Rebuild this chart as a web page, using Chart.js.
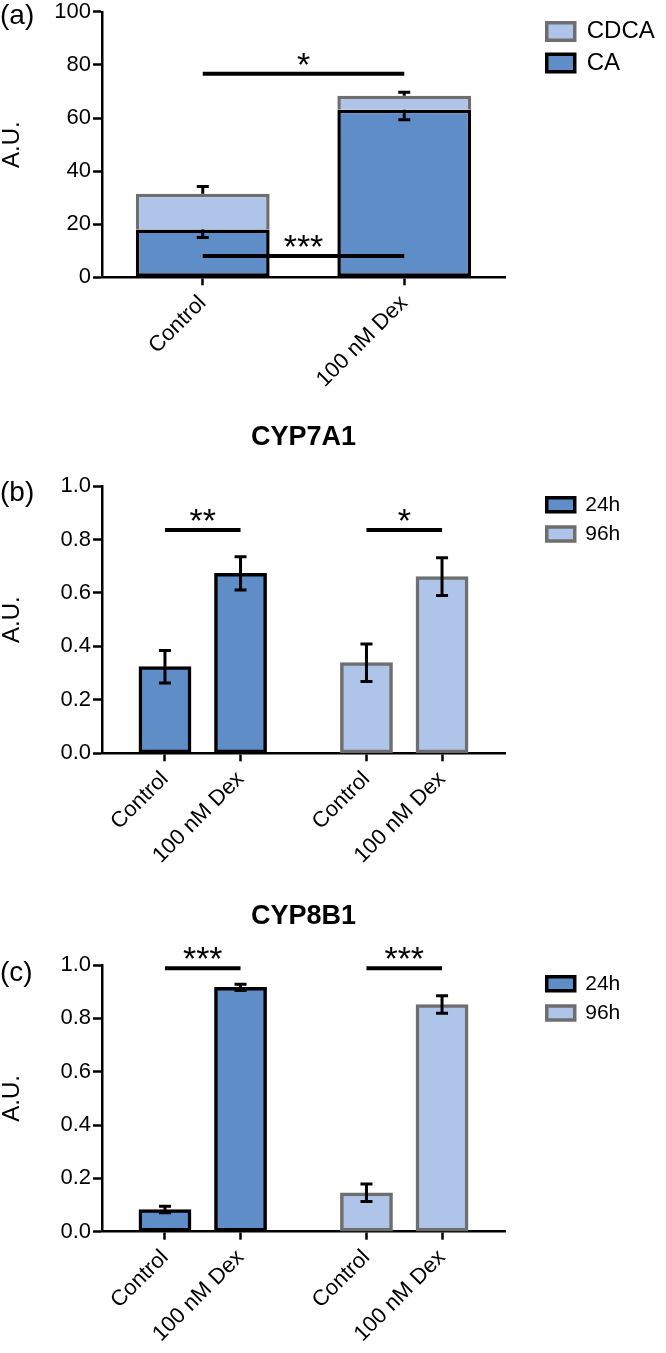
<!DOCTYPE html>
<html>
<head>
<meta charset="utf-8">
<title>Bile acids, CYP7A1, CYP8B1</title>
<script src="https://cdn.jsdelivr.net/npm/chart.js@4.4.1/dist/chart.umd.min.js"></script>
<style>
  body { margin: 0; width: 666px; height: 1353px; position: relative; background: #fff; overflow: hidden;
         font-family: 'Liberation Sans', Arial, Helvetica, sans-serif; }
  canvas { position: absolute; left: 0; }
  .tag { position: absolute; left: 0; font-size: 28px; line-height: 28px; color: #000; }
</style>
</head>
<body>
<canvas id="panelA" width="666" height="410" style="top:0"></canvas>
<canvas id="panelB" width="666" height="470" style="top:410px"></canvas>
<canvas id="panelC" width="666" height="473" style="top:880px"></canvas>
<div class="tag" style="top:1px">(a)</div>
<div class="tag" style="top:478px">(b)</div>
<div class="tag" style="top:958px">(c)</div>
<script>
/* ~~~~~~~~~~ DATA ~~~~~~~~~~ */

// (a) bile acids, stacked
const bileGroups = ['Control', '100 nM Dex'];
const caMean = [18.0, 63.1];
const caErr = [3.0, 3.7];
const cdcaMean = [13.5, 5.3];
const cdcaErr = [2.7, 1.3];
const bileTicks = [0, 20, 40, 60, 80, 100];
const bileSig = [
  { label: '*', level: 76.7 },
  { label: '***', level: 8.0 },
];

// (b), (c) expression, grouped by time point
const timepoints = ['24h', '96h'];
const treatments = ['Control', '100 nM Dex'];
const cyp7a1Control = [0.324, 0.339];
const cyp7a1ControlErr = [0.061, 0.070];
const cyp7a1Dex = [0.673, 0.661];
const cyp7a1DexErr = [0.062, 0.071];
const cyp7a1Sig = ['**', '*'];
const cyp7a1SigLevel = [0.835, 0.835];

const cyp8b1Control = [0.083, 0.146];
const cyp8b1ControlErr = [0.012, 0.033];
const cyp8b1Dex = [0.916, 0.852];
const cyp8b1DexErr = [0.012, 0.033];
const cyp8b1Sig = ['***', '***'];
const cyp8b1SigLevel = [0.988, 0.988];

const foldTicks = [0, 0.2, 0.4, 0.6, 0.8, 1.0];

/* ~~~~~~~~~~ STYLE ~~~~~~~~~~ */

const DARK = '#5F8DC7';
const LIGHT = '#AFC4E9';
const GREY = '#6E6E6E';
const FONT = "'Liberation Sans', Arial, Helvetica, sans-serif";
const GROUP_PCT = 0.75;
const PLOT_RIGHT = 505;   // where the x axis ends
const BOX_LEFT = 546.75;  // legend swatch left edge
const BOX_W = 28;

Chart.defaults.font.family = FONT;
Chart.defaults.color = '#000';
Chart.defaults.animation = false;

/* ~~~~~~~~~~ PLUGINS ~~~~~~~~~~ */

const errorBars = {
  id: 'errorBars',
  afterDatasetsDraw(chart) {
    const ctx = chart.ctx;
    const y = chart.scales.y;
    ctx.save();
    ctx.strokeStyle = '#000';
    ctx.lineWidth = 3;
    chart.data.datasets.forEach((ds, di) => {
      if (!ds.errors) return;
      chart.getDatasetMeta(di).data.forEach((bar, i) => {
        const d = y.getPixelForValue(0) - y.getPixelForValue(ds.errors[i]);
        const ends = [];
        if (ds.errorDir !== 'down') ends.push(bar.y - d);
        if (ds.errorDir !== 'up') ends.push(bar.y + d);
        ctx.beginPath();
        ends.forEach((e) => {
          ctx.moveTo(bar.x, bar.y);
          ctx.lineTo(bar.x, e);
          ctx.moveTo(bar.x - 6, e);
          ctx.lineTo(bar.x + 6, e);
        });
        ctx.stroke();
      });
    });
    ctx.restore();
  },
};

const sigMarks = {
  id: 'sigMarks',
  afterDatasetsDraw(chart, args, opts) {
    const ctx = chart.ctx;
    const y = chart.scales.y;
    ctx.save();
    (opts.items || []).forEach((s) => {
      const a = chart.getDatasetMeta(s.from[0]).data[s.from[1]];
      const b = chart.getDatasetMeta(s.to[0]).data[s.to[1]];
      const py = y.getPixelForValue(s.level);
      ctx.strokeStyle = '#000';
      ctx.lineWidth = 4;
      ctx.beginPath();
      ctx.moveTo(a.x, py);
      ctx.lineTo(b.x, py);
      ctx.stroke();
      ctx.fillStyle = '#000';
      ctx.font = '34px ' + FONT;
      ctx.textAlign = 'center';
      ctx.textBaseline = 'alphabetic';
      ctx.fillText(s.label, (a.x + b.x) / 2, py + 2);
    });
    ctx.restore();
  },
};

/* ~~~~~~~~~~ LAYOUT HELPERS ~~~~~~~~~~ */

// same sum the legend plugin does, so the plot keeps its right edge
function legendWidth(texts, fontSize, pad) {
  const m = document.createElement('canvas').getContext('2d');
  m.font = fontSize + 'px ' + FONT;
  const tw = Math.max(...texts.map((t) => m.measureText(t).width));
  return pad + BOX_W + fontSize / 2 + tw + 10;
}

function rightSide(texts, fontSize, pad) {
  const gap = BOX_LEFT - pad - PLOT_RIGHT;
  const padRight = Math.max(0, 666 - PLOT_RIGHT - gap - legendWidth(texts, fontSize, pad));
  return { gap, padRight };
}

function yAxis(tickValues, fmt, stacked) {
  return {
    stacked: stacked,
    min: tickValues[0],
    max: tickValues[tickValues.length - 1],
    afterBuildTicks: (ax) => { ax.ticks = tickValues.map((v) => ({ value: v })); },
    afterFit: (s) => { s.width = 102; },
    border: { display: true, color: '#000', width: 2.5 },
    grid: { drawOnChartArea: false, drawTicks: true, tickLength: 9, tickColor: '#000', tickWidth: 2.5 },
    ticks: { font: { size: 22, lineHeight: 0.9 }, color: '#000', padding: 2, callback: fmt },
    title: { display: true, text: 'A.U.', font: { size: 24, lineHeight: 1 }, padding: 0, color: '#000' },
  };
}

const X_TICKS = { font: { size: 22 }, color: '#000', padding: 5, minRotation: 45, maxRotation: 45, autoSkip: false };

function xAxis(height, more) {
  return Object.assign({
    afterFit: (s) => { s.height = height; },
    border: { display: true, color: '#000', width: 2.5 },
    grid: { offset: false, drawOnChartArea: false, drawTicks: true, tickLength: 8, tickColor: '#000', tickWidth: 2.5 },
    ticks: X_TICKS,
  }, more);
}

// hidden box that pushes the legend away from the plot
function spacer(width) {
  return {
    type: 'linear', position: 'right', display: false,
    afterFit: (s) => { s.width = width; },
  };
}

/* ~~~~~~~~~~ (a) BILE ACIDS ~~~~~~~~~~ */

const sideA = rightSide(['CDCA', 'CA'], 24, 7.5);

new Chart(document.getElementById('panelA'), {
  type: 'bar',
  data: {
    labels: bileGroups,
    datasets: [
      {
        label: 'CA', data: caMean, errors: caErr, errorDir: 'down',
        backgroundColor: DARK, borderColor: '#000', borderWidth: 3.5, borderSkipped: false,
      },
      {
        label: 'CDCA', data: cdcaMean, errors: cdcaErr, errorDir: 'up',
        backgroundColor: LIGHT, borderColor: GREY, borderWidth: 3.5, borderSkipped: 'start',
      },
    ],
  },
  options: {
    responsive: false,
    categoryPercentage: 0.8,
    barPercentage: 0.83,
    layout: { padding: { top: 10.7, right: sideA.padRight, bottom: 0, left: 0 } },
    scales: {
      x: xAxis(132.7, { stacked: true }),
      y: yAxis(bileTicks, (v) => String(v), true),
      y2: spacer(sideA.gap),
    },
    plugins: {
      legend: {
        position: 'right', align: 'start', fullSize: false, reverse: true,
        labels: { boxWidth: BOX_W, boxHeight: 17.5, padding: 7.5, color: '#000', font: { size: 24 } },
      },
      tooltip: { enabled: false },
      sigMarks: { items: bileSig.map((s) => ({ label: s.label, level: s.level, from: [0, 0], to: [0, 1] })) },
    },
  },
  plugins: [errorBars, sigMarks],
});

/* ~~~~~~~~~~ (b), (c) CYP PANELS ~~~~~~~~~~ */

function cypPanel(id, title, titlePad, xHeight, control, controlErr, dex, dexErr, sig, sigLevel) {
  const fills = [DARK, LIGHT];
  const strokes = ['#000', GREY];
  const side = rightSide(timepoints, 21, 8.25);
  return new Chart(document.getElementById(id), {
    type: 'bar',
    data: {
      labels: timepoints,
      datasets: [
        {
          label: treatments[0], data: control, errors: controlErr, errorDir: 'both',
          backgroundColor: fills, borderColor: strokes, borderWidth: 3.5, borderSkipped: false,
        },
        {
          label: treatments[1], data: dex, errors: dexErr, errorDir: 'both',
          backgroundColor: fills, borderColor: strokes, borderWidth: 3.5, borderSkipped: false,
        },
      ],
    },
    options: {
      responsive: false,
      barThickness: 'flex',
      categoryPercentage: GROUP_PCT,
      barPercentage: 0.69,
      layout: { padding: { top: 0, right: side.padRight, bottom: 0, left: 0 } },
      scales: {
        x: xAxis(xHeight, {
          // one tick under every bar, at the centre of its slot in the group
          afterBuildTicks: (ax) => {
            const n = treatments.length;
            const ticks = [];
            timepoints.forEach((t, i) => {
              treatments.forEach((tr, j) => {
                ticks.push({ value: i + (j - (n - 1) / 2) * GROUP_PCT / n });
              });
            });
            ax.ticks = ticks;
          },
          ticks: Object.assign({}, X_TICKS, { callback: (v, i) => treatments[i % treatments.length] }),
        }),
        y: yAxis(foldTicks, (v) => v.toFixed(1), false),
        y2: spacer(side.gap),
      },
      plugins: {
        title: {
          display: true, text: title, position: 'top', fullSize: false, color: '#000',
          font: { size: 27, weight: 'bold', lineHeight: 1.2 }, padding: titlePad,
        },
        legend: {
          position: 'right', align: 'start', fullSize: false,
          labels: {
            boxWidth: BOX_W, boxHeight: 14, padding: 8.25, color: '#000', font: { size: 21 },
            generateLabels: (chart) => chart.data.labels.map((t, i) => ({
              text: t, fillStyle: fills[i], strokeStyle: strokes[i], lineWidth: 3.5, hidden: false, index: i,
            })),
          },
        },
        tooltip: { enabled: false },
        sigMarks: {
          items: sig.map((label, i) => ({ label: label, level: sigLevel[i], from: [0, i], to: [1, i] })),
        },
      },
    },
    plugins: [errorBars, sigMarks],
  });
}

cypPanel('panelB', 'CYP7A1', { top: 11.3, bottom: 32.3 }, 126.7,
  cyp7a1Control, cyp7a1ControlErr, cyp7a1Dex, cyp7a1DexErr, cyp7a1Sig, cyp7a1SigLevel);

cypPanel('panelC', 'CYP8B1', { top: 20.5, bottom: 32.1 }, 121.3,
  cyp8b1Control, cyp8b1ControlErr, cyp8b1Dex, cyp8b1DexErr, cyp8b1Sig, cyp8b1SigLevel);
</script>
</body>
</html>
